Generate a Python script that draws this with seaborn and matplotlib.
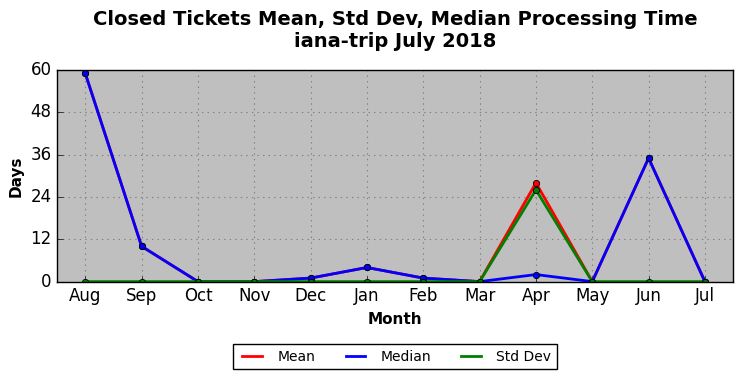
import pandas as pd
import matplotlib
matplotlib.use("Agg")
import matplotlib.pyplot as plt
import seaborn as sns

# -------------------------------
# Data
# -------------------------------
months = ["Aug", "Sep", "Oct", "Nov", "Dec", "Jan", "Feb", "Mar", "Apr", "May", "Jun", "Jul"]
mean_days = [59, 10, 0, 0, 1, 4, 1, 0, 28, 0, 35, 0]
median_days = [59, 10, 0, 0, 1, 4, 1, 0, 2, 0, 35, 0]
std_days = [0, 0, 0, 0, 0, 0, 0, 0, 26, 0, 0, 0]

series = {"Mean": mean_days, "Median": median_days, "Std Dev": std_days}
colors = {"Mean": "red", "Median": "blue", "Std Dev": "green"}

rows = []
for name, vals in series.items():
    for i, v in enumerate(vals):
        rows.append({"idx": i, "Days": v, "stat": name})
df = pd.DataFrame(rows)

# -------------------------------
# Plot
# -------------------------------
plt.style.use("classic")
fig, ax = plt.subplots(figsize=(7.42, 3.78), dpi=100)
fig.patch.set_facecolor("white")
ax.set_facecolor("#bfbfbf")
ax.set_axisbelow(True)

sns.lineplot(data=df, x="idx", y="Days", hue="stat", palette=colors,
             marker="o", markersize=4.5, linewidth=2, markeredgecolor="black",
             markeredgewidth=0.6, ax=ax, legend=False)

ax.set_xlim(-0.5, 11.5)
ax.set_ylim(0, 60)
ax.set_xticks(range(len(months)))
ax.set_xticklabels(months)
ax.set_yticks([0, 12, 24, 36, 48, 60])
ax.tick_params(labelsize=12, top=False, right=False)
ax.grid(True, linestyle=":", color="gray", linewidth=0.8)
ax.set_xlabel("Month", fontsize=11, fontweight="bold")
ax.set_ylabel("Days", fontsize=11, fontweight="bold")
ax.set_title("Closed Tickets Mean, Std Dev, Median Processing Time\niana-trip July 2018",
             fontsize=14, fontweight="bold", y=1.077)

handles = [plt.Line2D([], [], color=colors[n], linewidth=2) for n in series]
fig.legend(handles, list(series), loc="lower center", ncol=3, fontsize=10,
           bbox_to_anchor=(0.532, 0.005), frameon=True, columnspacing=1.9,
           handlelength=2, fancybox=False)

fig.subplots_adjust(left=0.077, right=0.988, top=0.815, bottom=0.255)
fig.savefig("out.png", dpi=100)
